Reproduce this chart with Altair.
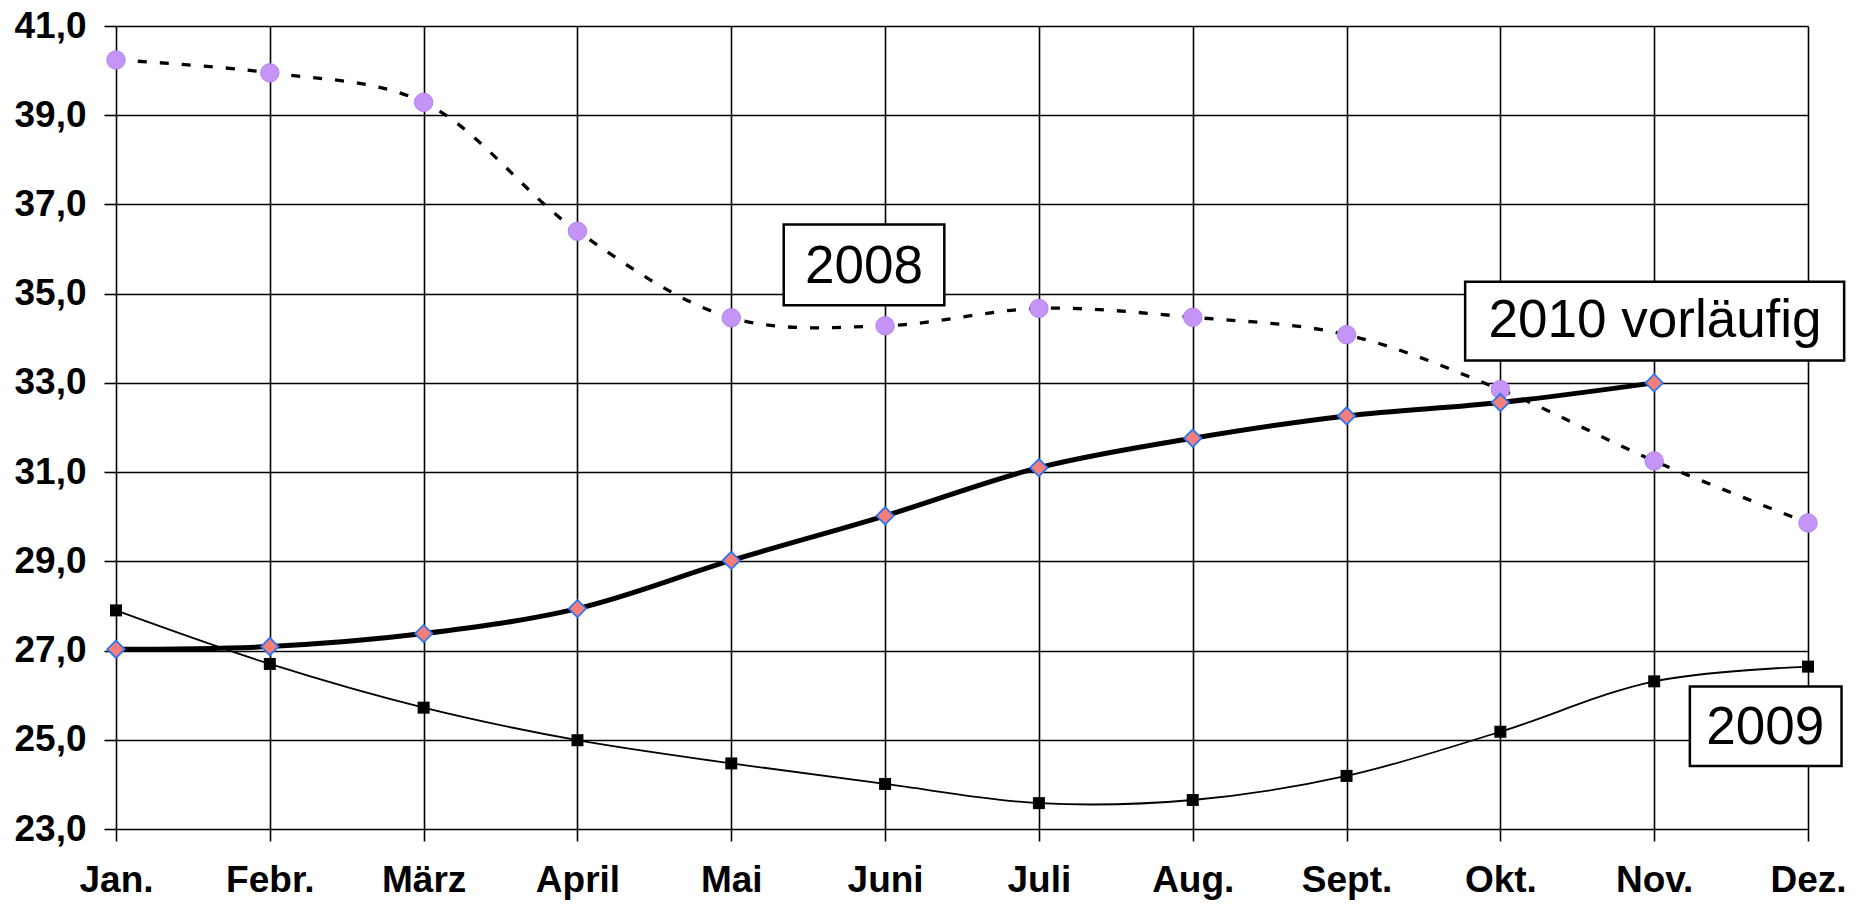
import altair as alt
import pandas as pd

months = ["Jan.", "Febr.", "März", "April", "Mai", "Juni", "Juli", "Aug.", "Sept.", "Okt.", "Nov.", "Dez."]
v2008 = [40.24, 39.95, 39.29, 36.40, 34.46, 34.28, 34.67, 34.47, 34.08, 32.85, 31.25, 29.86]
v2009 = [27.90, 26.70, 25.72, 24.99, 24.47, 24.01, 23.58, 23.65, 24.19, 25.18, 26.31, 26.64]
v2010 = [27.03, 27.09, 27.38, 27.94, 29.02, 30.02, 31.10, 31.76, 32.26, 32.56, 33.00]
y_ticks = [23, 25, 27, 29, 31, 33, 35, 37, 39, 41]

ann_labels = ["2008", "2010 vorläufig", "2009"]
ann_x = [4.863, 10.006, 10.722]
ann_y = [35.607, 34.39, 25.27]
box_x1 = [4.341, 8.771, 10.232]
box_x2 = [5.385, 11.235, 11.218]
box_y1 = [36.549, 35.265, 26.193]
box_y2 = [34.739, 33.50, 24.412]

d08 = pd.DataFrame({"m": list(range(len(v2008))), "v": v2008})
d09 = pd.DataFrame({"m": list(range(len(v2009))), "v": v2009})
d10 = pd.DataFrame({"m": list(range(len(v2010))), "v": v2010})
dann = pd.DataFrame({"label": ann_labels, "x": ann_x, "y": ann_y,
                     "x1": box_x1, "x2": box_x2, "y1": box_y1, "y2": box_y2})

FONT = "Liberation Sans"
month_arr = "[" + ",".join("'" + m + "'" for m in months) + "]"

xscale = alt.Scale(domain=[0, 11], nice=False, zero=False)
yscale = alt.Scale(domain=[23, 41], nice=False, zero=False)

xaxis = alt.Axis(values=list(range(12)), labelExpr=month_arr + "[datum.value]",
                 title=None, grid=True, gridColor="black", gridWidth=1.6, gridOpacity=1,
                 tickSize=12, tickColor="black", tickWidth=1.6, domain=False,
                 labelFont=FONT, labelFontSize=37, labelFontWeight="bold", labelColor="black",
                 labelBaseline="alphabetic", labelPadding=50, labelFlush=False,
                 labelOverlap=False, labelBound=False)
yaxis = alt.Axis(values=y_ticks, labelExpr="replace(format(datum.value, '.1f'), '.', ',')",
                 title=None, grid=True, gridColor="black", gridWidth=1.6, gridOpacity=1,
                 tickSize=12, tickColor="black", tickWidth=1.6, domain=False,
                 labelFont=FONT, labelFontSize=37, labelFontWeight="bold", labelColor="black",
                 labelPadding=18, labelFlush=False, labelOverlap=False, labelBound=False)

base08 = alt.Chart(d08)
base09 = alt.Chart(d09)
base10 = alt.Chart(d10)

line08 = base08.mark_line(color="black", strokeWidth=3.3, strokeDash=[9, 13], interpolate="catmull-rom").encode(
    x=alt.X("m:Q", scale=xscale, axis=xaxis),
    y=alt.Y("v:Q", scale=yscale, axis=yaxis))
line09 = base09.mark_line(color="black", strokeWidth=1.8, interpolate="catmull-rom").encode(
    x=alt.X("m:Q", scale=xscale), y=alt.Y("v:Q", scale=yscale))
line10 = base10.mark_line(color="black", strokeWidth=5, interpolate="catmull-rom").encode(
    x=alt.X("m:Q", scale=xscale), y=alt.Y("v:Q", scale=yscale))

pts08 = base08.mark_point(shape="circle", filled=True, size=340, color="#C494F6", opacity=1,
                          stroke="#B482EE", strokeWidth=1).encode(
    x=alt.X("m:Q", scale=xscale), y=alt.Y("v:Q", scale=yscale))
pts09 = base09.mark_point(shape="square", filled=True, size=144, color="black", opacity=1).encode(
    x=alt.X("m:Q", scale=xscale), y=alt.Y("v:Q", scale=yscale))
pts10 = base10.mark_point(shape="diamond", filled=True, size=300, fill="#F47F7A", opacity=1,
                          stroke="#2F74F0", strokeWidth=1.8).encode(
    x=alt.X("m:Q", scale=xscale), y=alt.Y("v:Q", scale=yscale))

boxes = alt.Chart(dann).mark_rect(fill="white", stroke="black", strokeWidth=2.5).encode(
    x=alt.X("x1:Q", scale=xscale), x2="x2:Q",
    y=alt.Y("y1:Q", scale=yscale), y2="y2:Q")
texts = alt.Chart(dann).mark_text(font=FONT, fontSize=53, color="black", align="center",
                                  baseline="middle").encode(
    x=alt.X("x:Q", scale=xscale), y=alt.Y("y:Q", scale=yscale), text="label:N")

chart = alt.layer(line08, line09, line10, pts08, pts09, pts10, boxes, texts).properties(
    width=1692, height=803,
    padding={"left": 108, "top": 18, "right": 40, "bottom": 71},
    autosize=alt.AutoSizeParams(type="none"),
    background="white",
).configure_view(stroke=None)

chart.save("out.html", embed_options={"renderer": "svg", "actions": False})
